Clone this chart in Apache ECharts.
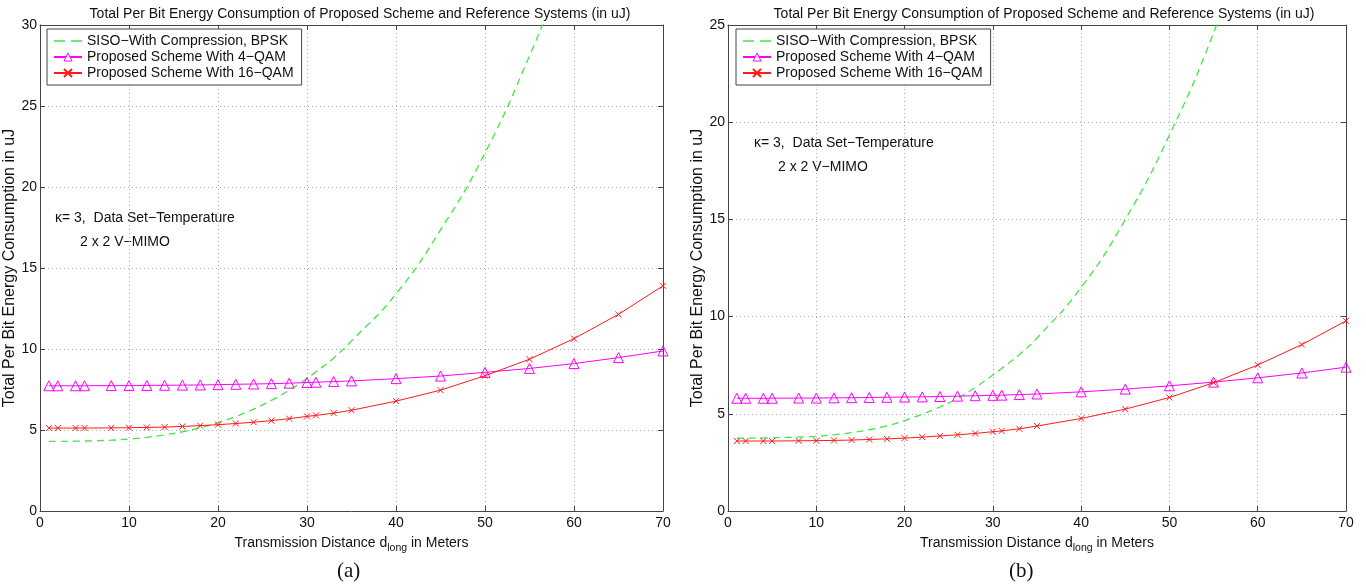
<!DOCTYPE html>
<html>
<head>
<meta charset="utf-8">
<title>Total Per Bit Energy Consumption</title>
<script src="https://cdn.jsdelivr.net/npm/echarts@6/dist/echarts.min.js"></script>
<style>
  html, body { margin: 0; padding: 0; background: #fff; }
  #chart { width: 1366px; height: 588px; }
</style>
</head>
<body>
<div id="chart"></div>
<script>
// transmission distance d_long (m), same points for every curve
const distances = [1, 2, 4, 5, 8, 10, 12, 14, 16, 18, 20, 22, 24, 26, 28, 30, 31, 33, 35, 40, 45, 50, 55, 60, 65, 70];
// SISO curve runs past the top of the plot, so it stops at 60
const sisoDistances = [1, 2, 4, 5, 8, 10, 12, 14, 16, 18, 20, 22, 24, 26, 28, 30, 31, 33, 35, 40, 45, 50, 55, 60];

// panel (a)
const sisoA = [4.30, 4.30, 4.31, 4.32, 4.37, 4.44, 4.55, 4.70, 4.89, 5.14, 5.45, 5.83, 6.29, 6.83, 7.46, 8.19, 8.59, 9.45, 10.5, 13.4, 17.35, 22.1, 28.1, 34.8];
const qam4A = [7.73, 7.73, 7.73, 7.73, 7.74, 7.74, 7.75, 7.76, 7.77, 7.78, 7.80, 7.82, 7.84, 7.86, 7.89, 7.93, 7.95, 7.99, 8.03, 8.17, 8.33, 8.56, 8.80, 9.10, 9.47, 9.88];
const qam16A = [5.12, 5.12, 5.12, 5.12, 5.13, 5.14, 5.16, 5.18, 5.22, 5.27, 5.33, 5.40, 5.48, 5.58, 5.70, 5.84, 5.90, 6.04, 6.22, 6.78, 7.46, 8.35, 9.37, 10.64, 12.14, 13.9];

// panel (b)
const sisoB = [3.75, 3.75, 3.76, 3.77, 3.80, 3.84, 3.92, 4.03, 4.18, 4.38, 4.65, 4.98, 5.35, 5.80, 6.35, 7.00, 7.33, 8.05, 8.90, 11.5, 15.0, 19.34, 24.6, 31.0];
const qam4B = [5.80, 5.80, 5.80, 5.80, 5.81, 5.81, 5.82, 5.83, 5.84, 5.85, 5.86, 5.87, 5.89, 5.91, 5.93, 5.95, 5.96, 5.99, 6.02, 6.13, 6.27, 6.44, 6.63, 6.85, 7.10, 7.40];
const qam16B = [3.60, 3.60, 3.60, 3.60, 3.61, 3.62, 3.63, 3.65, 3.68, 3.71, 3.75, 3.80, 3.86, 3.92, 3.99, 4.08, 4.12, 4.23, 4.37, 4.76, 5.24, 5.84, 6.60, 7.51, 8.56, 9.78];

const seriesNames = ['SISO\u2212With Compression, BPSK', 'Proposed Scheme With 4\u2212QAM', 'Proposed Scheme With 16\u2212QAM'];
const yMaxA = 30;
const yMaxB = 25;

const FONT = 'Liberation Sans, Arial, Helvetica, sans-serif';
const GREEN = '#3ee83e';
const MAGENTA = '#ff00ff';
const RED = '#ff1a1a';
const AXIS = '#444';
const CROSS = 'path://M0,0L10,10M10,0L0,10';
// two dashes for the legend entry of the dashed curve
const DASHES = 'path://M0,4.4H9V5.6H0ZM14,4.4H23V5.6H14Z';

function pairs(xs, ys) {
  return xs.map((x, i) => [x, ys[i]]);
}

function mainX(gridIndex) {
  return {
    type: 'value', gridIndex: gridIndex, min: 0, max: 70, interval: 10,
    position: 'bottom',
    name: 'Transmission Distance d{sub|long} in Meters',
    nameLocation: 'middle', nameGap: 22,
    nameTextStyle: {
      fontFamily: FONT, fontSize: 14, color: '#111',
      rich: { sub: { fontFamily: FONT, fontSize: 10.5, color: '#111', padding: [10, 0, 0, 0] } }
    },
    axisLine: { show: true, onZero: false, lineStyle: { color: AXIS, width: 1 } },
    axisTick: { inside: true, length: 5, lineStyle: { color: AXIS } },
    axisLabel: { fontFamily: FONT, fontSize: 14, color: '#111', margin: 5 },
    splitLine: { show: true, lineStyle: { color: '#aaa', type: [1, 3], width: 1 } }
  };
}

function mainY(gridIndex, max) {
  return {
    type: 'value', gridIndex: gridIndex, min: 0, max: max, interval: 5,
    position: 'left',
    name: 'Total Per Bit Energy Consumption in uJ',
    nameLocation: 'middle', nameGap: 22, nameMoveOverlap: false,
    nameTextStyle: { fontFamily: FONT, fontSize: 16, color: '#111' },
    axisLine: { show: true, onZero: false, lineStyle: { color: AXIS, width: 1 } },
    axisTick: { show: true, inside: true, length: 5, lineStyle: { color: AXIS } },
    axisLabel: { fontFamily: FONT, fontSize: 14, color: '#111', margin: 3 },
    splitLine: { show: true, lineStyle: { color: '#aaa', type: [1, 3], width: 1 } }
  };
}

// mirror axes give the MATLAB-style box with inward ticks on top and right
function frameX(gridIndex) {
  return {
    type: 'value', gridIndex: gridIndex, min: 0, max: 70, interval: 10, position: 'top',
    axisLine: { show: true, onZero: false, lineStyle: { color: AXIS } },
    axisTick: { inside: true, length: 5, lineStyle: { color: AXIS } },
    axisLabel: { show: false }, splitLine: { show: false }
  };
}

function frameY(gridIndex, max) {
  return {
    type: 'value', gridIndex: gridIndex, min: 0, max: max, interval: 5, position: 'right',
    axisLine: { show: true, onZero: false, lineStyle: { color: AXIS } },
    axisTick: { show: true, inside: true, length: 5, lineStyle: { color: AXIS } },
    axisLabel: { show: false }, splitLine: { show: false }
  };
}

function panelSeries(axisIndex, siso, qam4, qam16) {
  return [
    {
      name: seriesNames[0], type: 'line', xAxisIndex: axisIndex, yAxisIndex: axisIndex,
      data: pairs(sisoDistances, siso), smooth: true, showSymbol: false, symbol: 'none',
      lineStyle: { color: GREEN, width: 1.3, type: [7, 5] }, itemStyle: { color: GREEN },
      clip: true, z: 2
    },
    {
      name: seriesNames[1], type: 'line', xAxisIndex: axisIndex, yAxisIndex: axisIndex,
      data: pairs(distances, qam4), symbol: 'triangle', symbolSize: 10,
      lineStyle: { color: MAGENTA, width: 1 },
      itemStyle: { color: 'rgba(255,255,255,0)', borderColor: MAGENTA, borderWidth: 1 },
      z: 3
    },
    {
      name: seriesNames[2], type: 'line', xAxisIndex: axisIndex, yAxisIndex: axisIndex,
      data: pairs(distances, qam16), symbol: CROSS, symbolSize: 6,
      lineStyle: { color: RED, width: 1 },
      itemStyle: { color: RED, borderColor: RED, borderWidth: 1 },
      z: 4
    }
  ];
}

function legendAt(left) {
  return {
    orient: 'vertical', left: left, top: 29,
    data: [
      { name: seriesNames[0], icon: DASHES, itemStyle: { color: GREEN, borderWidth: 0 } },
      { name: seriesNames[1], itemStyle: { color: '#fff', borderColor: MAGENTA, borderWidth: 1 } },
      { name: seriesNames[2] }
    ],
    padding: [4, 8, 4, 6], itemGap: 0, itemWidth: 28, itemHeight: 10,
    backgroundColor: '#fff', borderColor: AXIS, borderWidth: 1, borderRadius: 0,
    textStyle: { fontFamily: FONT, fontSize: 14, color: '#111', lineHeight: 16 },
    selectedMode: false
  };
}

function titleAt(centerX) {
  return {
    text: 'Total Per Bit Energy Consumption of Proposed Scheme and Reference Systems (in uJ)',
    left: centerX, top: 2, textAlign: 'center',
    textStyle: { fontFamily: FONT, fontSize: 14, fontWeight: 'normal', color: '#111' }
  };
}

function note(x, y, text) {
  return { type: 'text', left: x, top: y, style: { text: text, font: '14px ' + FONT, fill: '#111' } };
}

const chart = echarts.init(document.getElementById('chart'), null, { renderer: 'canvas' });

const option = {
  backgroundColor: '#fff',
  animation: false,
  title: [titleAt(355), titleAt(1039)],
  legend: [legendAt(47), legendAt(736)],
  grid: [
    { left: 40, top: 25, width: 623, height: 486, show: false },
    { left: 728, top: 25, width: 618, height: 486, show: false }
  ],
  xAxis: [mainX(0), frameX(0), mainX(1), frameX(1)],
  yAxis: [mainY(0, yMaxA), frameY(0, yMaxA), mainY(1, yMaxB), frameY(1, yMaxB)],
  series: [].concat(
    panelSeries(0, sisoA, qam4A, qam16A),
    panelSeries(2, sisoB, qam4B, qam16B)
  ),
  graphic: [
    note(55, 211, '\u03ba= 3,  Data Set\u2212Temperature'),
    note(80, 235, '2 x 2 V\u2212MIMO'),
    note(754, 136, '\u03ba= 3,  Data Set\u2212Temperature'),
    note(778, 160, '2 x 2 V\u2212MIMO'),
    { type: 'text', left: 337, top: 561, style: { text: '(a)', font: '21px Liberation Serif, Times New Roman, serif', fill: '#111' } },
    { type: 'text', left: 1009, top: 561, style: { text: '(b)', font: '21px Liberation Serif, Times New Roman, serif', fill: '#111' } }
  ]
};

chart.setOption(option);
</script>
</body>
</html>
